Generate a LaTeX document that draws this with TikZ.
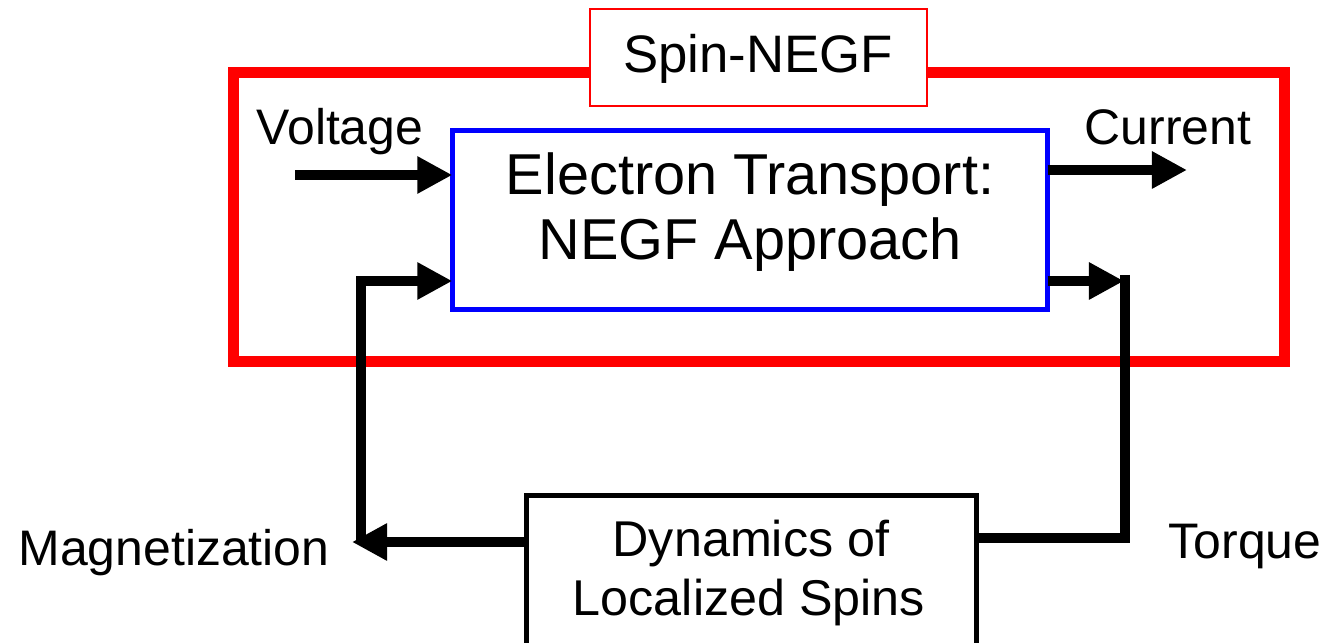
\documentclass[tikz,border=0pt]{standalone}
\usepackage{fontspec}
\setmainfont{Liberation Sans}
\usetikzlibrary{arrows.meta}
\begin{document}
\begin{tikzpicture}[x=0.01cm,y=-0.01cm,
  arr/.style={line width=3.1pt,-{Triangle[length=0.35cm,width=0.35cm]}},
  conn/.style={line width=3.1pt},
  lbl/.style={anchor=base,inner sep=0pt,font=\fontsize{14.2}{17}\selectfont},
  boxtxt/.style={anchor=base,inner sep=0pt,font=\fontsize{16.4}{19}\selectfont},
  dyntxt/.style={anchor=base,inner sep=0pt,font=\fontsize{14.3}{17}\selectfont},
  frame/.style={draw,rectangle,inner sep=0pt,outer sep=0pt}]
\clip (0,0) rectangle (1330,643);
\useasboundingbox (0,0) rectangle (1330,643);
% outer red box
\node[frame,draw=red,line width=3.1pt,minimum width=10.5cm,minimum height=2.88cm] (outer) at (759,217) {};
% title box
\node[frame,draw=red,fill=white,line width=0.6pt,minimum width=3.37cm,minimum height=0.97cm] (title) at (758.5,57.5) {};
\node[anchor=base,inner sep=0pt,font=\fontsize{15}{18}\selectfont] (titletxt) at (758,73) {Spin-NEGF};
% blue box
\node[frame,draw=blue,line width=1.45pt,minimum width=5.95cm,minimum height=1.79cm] (negf) at (750,220) {};
\node[boxtxt] (negf1) at (750,195) {Electron Transport:};
\node[boxtxt] (negf2) at (750,260) {NEGF Approach};
% dynamics box
\node[frame,line width=1.5pt,minimum width=4.50cm,minimum height=1.90cm] (dyn) at (751.5,590.5) {};
\node[dyntxt] (dyn1) at (751,557) {Dynamics of};
\node[dyntxt] (dyn2) at (749,615) {Localized Spins};
% labels
\node[lbl] (volt) at (340,145) {Voltage};
\node[lbl] (curr) at (1168,145) {Current};
\node[lbl] (mag) at (174,565) {Magnetization};
\node[lbl] (torq) at (1245,558) {Torque};
% coordinates
\coordinate (vin) at (295,175);
\coordinate (cout) at (1187,170);
\coordinate (mtop) at (361,281);
\coordinate (mbot) at (361,540);
\coordinate (mtip) at (352,542);
\coordinate (ttop) at (1125,281);
\coordinate (tbot) at (1125,538);
% connectors
\draw[arr] (vin) -- (vin -| negf.west);
\draw[arr] (negf.east |- cout) -- (cout);
\draw[arr] (mbot) -- (mtop) -- (mtop -| negf.west);
\draw[arr] (dyn.west |- mtip) -- (mtip);
\draw[arr] (negf.east |- ttop) -- ([xshift=-0.01cm]ttop);
\draw[conn] ([yshift=0.06cm]ttop) -- (tbot) -- (tbot -| dyn.east);
\end{tikzpicture}
\end{document}
